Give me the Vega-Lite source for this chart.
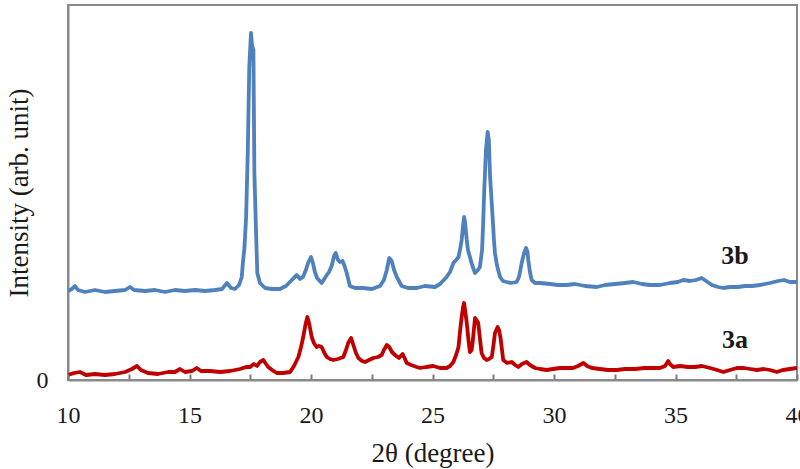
{
  "$schema": "https://vega.github.io/schema/vega-lite/v6.json",
  "width": 729,
  "height": 375,
  "autosize": {"type": "none"},
  "padding": {"left": 68, "top": 5, "right": 3, "bottom": 89},
  "background": "white",
  "config": {
    "view": {"stroke": "#8a8a8a", "strokeWidth": 2},
    "font": "Liberation Serif",
    "axis": {"labelFont": "Liberation Serif", "titleFont": "Liberation Serif", "labelColor": "#1a1a1a", "titleColor": "#1a1a1a", "titleFontWeight": "normal", "grid": false, "domainColor": "#8a8a8a", "domainWidth": 2, "tickColor": "#7a7a7a"}
  },
  "datasets": {
    "xrd": [
      {"s":"3b","x":10.00,"y":89},{"s":"3b","x":10.16,"y":91},{"s":"3b","x":10.29,"y":94},{"s":"3b","x":10.41,"y":90},{"s":"3b","x":10.70,"y":88},{"s":"3b","x":11.11,"y":90},{"s":"3b","x":11.52,"y":88},{"s":"3b","x":11.93,"y":89},{"s":"3b","x":12.35,"y":90},{"s":"3b","x":12.55,"y":93},{"s":"3b","x":12.72,"y":90},{"s":"3b","x":13.17,"y":89},{"s":"3b","x":13.58,"y":90},{"s":"3b","x":13.99,"y":88},{"s":"3b","x":14.40,"y":90},{"s":"3b","x":14.81,"y":89},{"s":"3b","x":15.23,"y":90},{"s":"3b","x":15.64,"y":89},{"s":"3b","x":16.05,"y":90},{"s":"3b","x":16.34,"y":91},{"s":"3b","x":16.54,"y":97},{"s":"3b","x":16.71,"y":92},{"s":"3b","x":16.87,"y":91},{"s":"3b","x":17.04,"y":95},{"s":"3b","x":17.15,"y":103},{"s":"3b","x":17.20,"y":118},{"s":"3b","x":17.26,"y":132},{"s":"3b","x":17.33,"y":163},{"s":"3b","x":17.40,"y":230},{"s":"3b","x":17.46,"y":313},{"s":"3b","x":17.53,"y":347},{"s":"3b","x":17.57,"y":335},{"s":"3b","x":17.63,"y":330},{"s":"3b","x":17.67,"y":207},{"s":"3b","x":17.74,"y":147},{"s":"3b","x":17.79,"y":107},{"s":"3b","x":17.90,"y":97},{"s":"3b","x":18.11,"y":92},{"s":"3b","x":18.40,"y":91},{"s":"3b","x":18.72,"y":91},{"s":"3b","x":18.97,"y":94},{"s":"3b","x":19.21,"y":100},{"s":"3b","x":19.41,"y":105},{"s":"3b","x":19.55,"y":101},{"s":"3b","x":19.67,"y":103},{"s":"3b","x":19.79,"y":110},{"s":"3b","x":19.88,"y":117},{"s":"3b","x":20.00,"y":123},{"s":"3b","x":20.08,"y":117},{"s":"3b","x":20.16,"y":108},{"s":"3b","x":20.25,"y":102},{"s":"3b","x":20.44,"y":97},{"s":"3b","x":20.65,"y":105},{"s":"3b","x":20.74,"y":108},{"s":"3b","x":20.85,"y":114},{"s":"3b","x":20.95,"y":124},{"s":"3b","x":21.02,"y":127},{"s":"3b","x":21.11,"y":120},{"s":"3b","x":21.19,"y":118},{"s":"3b","x":21.30,"y":119},{"s":"3b","x":21.38,"y":114},{"s":"3b","x":21.47,"y":107},{"s":"3b","x":21.60,"y":94},{"s":"3b","x":21.81,"y":92},{"s":"3b","x":22.14,"y":92},{"s":"3b","x":22.51,"y":91},{"s":"3b","x":22.84,"y":94},{"s":"3b","x":23.00,"y":100},{"s":"3b","x":23.12,"y":110},{"s":"3b","x":23.22,"y":122},{"s":"3b","x":23.32,"y":119},{"s":"3b","x":23.42,"y":110},{"s":"3b","x":23.53,"y":103},{"s":"3b","x":23.73,"y":94},{"s":"3b","x":23.99,"y":92},{"s":"3b","x":24.35,"y":92},{"s":"3b","x":24.69,"y":94},{"s":"3b","x":25.10,"y":93},{"s":"3b","x":25.31,"y":96},{"s":"3b","x":25.58,"y":103},{"s":"3b","x":25.72,"y":108},{"s":"3b","x":25.86,"y":117},{"s":"3b","x":25.97,"y":120},{"s":"3b","x":26.07,"y":123},{"s":"3b","x":26.13,"y":130},{"s":"3b","x":26.20,"y":140},{"s":"3b","x":26.26,"y":155},{"s":"3b","x":26.30,"y":163},{"s":"3b","x":26.34,"y":158},{"s":"3b","x":26.41,"y":140},{"s":"3b","x":26.46,"y":130},{"s":"3b","x":26.54,"y":123},{"s":"3b","x":26.63,"y":115},{"s":"3b","x":26.75,"y":107},{"s":"3b","x":26.87,"y":110},{"s":"3b","x":26.95,"y":113},{"s":"3b","x":27.04,"y":130},{"s":"3b","x":27.09,"y":160},{"s":"3b","x":27.13,"y":190},{"s":"3b","x":27.16,"y":207},{"s":"3b","x":27.20,"y":230},{"s":"3b","x":27.27,"y":248},{"s":"3b","x":27.32,"y":240},{"s":"3b","x":27.37,"y":203},{"s":"3b","x":27.43,"y":180},{"s":"3b","x":27.48,"y":160},{"s":"3b","x":27.53,"y":140},{"s":"3b","x":27.57,"y":127},{"s":"3b","x":27.65,"y":115},{"s":"3b","x":27.78,"y":103},{"s":"3b","x":27.90,"y":99},{"s":"3b","x":28.05,"y":98},{"s":"3b","x":28.23,"y":97},{"s":"3b","x":28.46,"y":98},{"s":"3b","x":28.56,"y":103},{"s":"3b","x":28.67,"y":117},{"s":"3b","x":28.77,"y":127},{"s":"3b","x":28.85,"y":132},{"s":"3b","x":28.91,"y":128},{"s":"3b","x":28.94,"y":120},{"s":"3b","x":29.01,"y":108},{"s":"3b","x":29.08,"y":100},{"s":"3b","x":29.22,"y":97},{"s":"3b","x":29.42,"y":97},{"s":"3b","x":29.84,"y":96},{"s":"3b","x":30.16,"y":95},{"s":"3b","x":30.52,"y":95},{"s":"3b","x":30.86,"y":96},{"s":"3b","x":31.28,"y":94},{"s":"3b","x":31.76,"y":93},{"s":"3b","x":32.10,"y":95},{"s":"3b","x":32.51,"y":96},{"s":"3b","x":32.92,"y":97},{"s":"3b","x":33.26,"y":98},{"s":"3b","x":33.62,"y":96},{"s":"3b","x":33.95,"y":95},{"s":"3b","x":34.36,"y":95},{"s":"3b","x":34.77,"y":97},{"s":"3b","x":35.10,"y":98},{"s":"3b","x":35.32,"y":100},{"s":"3b","x":35.60,"y":99},{"s":"3b","x":35.84,"y":100},{"s":"3b","x":36.08,"y":102},{"s":"3b","x":36.26,"y":99},{"s":"3b","x":36.50,"y":95},{"s":"3b","x":36.75,"y":93},{"s":"3b","x":36.97,"y":92},{"s":"3b","x":37.24,"y":93},{"s":"3b","x":37.57,"y":93},{"s":"3b","x":37.86,"y":94},{"s":"3b","x":38.15,"y":94},{"s":"3b","x":38.48,"y":95},{"s":"3b","x":38.89,"y":97},{"s":"3b","x":39.22,"y":99},{"s":"3b","x":39.47,"y":100},{"s":"3b","x":39.71,"y":98},{"s":"3b","x":40.00,"y":98},
      {"s":"3a","x":10.00,"y":5},{"s":"3a","x":10.25,"y":7},{"s":"3a","x":10.49,"y":8},{"s":"3a","x":10.74,"y":5},{"s":"3a","x":11.11,"y":6},{"s":"3a","x":11.52,"y":5},{"s":"3a","x":11.93,"y":6},{"s":"3a","x":12.35,"y":8},{"s":"3a","x":12.63,"y":11},{"s":"3a","x":12.84,"y":14},{"s":"3a","x":13.00,"y":10},{"s":"3a","x":13.29,"y":7},{"s":"3a","x":13.70,"y":6},{"s":"3a","x":14.12,"y":8},{"s":"3a","x":14.40,"y":8},{"s":"3a","x":14.61,"y":11},{"s":"3a","x":14.81,"y":8},{"s":"3a","x":15.10,"y":9},{"s":"3a","x":15.30,"y":12},{"s":"3a","x":15.47,"y":9},{"s":"3a","x":15.84,"y":9},{"s":"3a","x":16.26,"y":8},{"s":"3a","x":16.67,"y":9},{"s":"3a","x":17.08,"y":11},{"s":"3a","x":17.33,"y":13},{"s":"3a","x":17.49,"y":13},{"s":"3a","x":17.65,"y":16},{"s":"3a","x":17.78,"y":14},{"s":"3a","x":17.90,"y":18},{"s":"3a","x":18.04,"y":20},{"s":"3a","x":18.15,"y":16},{"s":"3a","x":18.24,"y":13},{"s":"3a","x":18.40,"y":10},{"s":"3a","x":18.59,"y":7},{"s":"3a","x":18.85,"y":7},{"s":"3a","x":19.14,"y":8},{"s":"3a","x":19.30,"y":14},{"s":"3a","x":19.48,"y":23},{"s":"3a","x":19.59,"y":33},{"s":"3a","x":19.68,"y":43},{"s":"3a","x":19.77,"y":55},{"s":"3a","x":19.85,"y":63},{"s":"3a","x":19.92,"y":57},{"s":"3a","x":20.03,"y":43},{"s":"3a","x":20.12,"y":37},{"s":"3a","x":20.23,"y":33},{"s":"3a","x":20.33,"y":34},{"s":"3a","x":20.44,"y":33},{"s":"3a","x":20.53,"y":28},{"s":"3a","x":20.65,"y":23},{"s":"3a","x":20.78,"y":21},{"s":"3a","x":20.92,"y":20},{"s":"3a","x":21.11,"y":21},{"s":"3a","x":21.33,"y":23},{"s":"3a","x":21.44,"y":30},{"s":"3a","x":21.53,"y":37},{"s":"3a","x":21.65,"y":42},{"s":"3a","x":21.77,"y":33},{"s":"3a","x":21.85,"y":27},{"s":"3a","x":21.95,"y":22},{"s":"3a","x":22.10,"y":19},{"s":"3a","x":22.22,"y":18},{"s":"3a","x":22.39,"y":20},{"s":"3a","x":22.56,"y":22},{"s":"3a","x":22.76,"y":23},{"s":"3a","x":22.91,"y":25},{"s":"3a","x":23.00,"y":30},{"s":"3a","x":23.12,"y":35},{"s":"3a","x":23.22,"y":33},{"s":"3a","x":23.33,"y":28},{"s":"3a","x":23.46,"y":25},{"s":"3a","x":23.62,"y":22},{"s":"3a","x":23.77,"y":26},{"s":"3a","x":23.85,"y":22},{"s":"3a","x":23.94,"y":17},{"s":"3a","x":24.12,"y":15},{"s":"3a","x":24.35,"y":13},{"s":"3a","x":24.49,"y":12},{"s":"3a","x":24.73,"y":13},{"s":"3a","x":25.03,"y":14},{"s":"3a","x":25.31,"y":12},{"s":"3a","x":25.58,"y":12},{"s":"3a","x":25.72,"y":14},{"s":"3a","x":25.86,"y":18},{"s":"3a","x":25.97,"y":25},{"s":"3a","x":26.07,"y":33},{"s":"3a","x":26.13,"y":48},{"s":"3a","x":26.20,"y":63},{"s":"3a","x":26.26,"y":73},{"s":"3a","x":26.30,"y":77},{"s":"3a","x":26.34,"y":70},{"s":"3a","x":26.41,"y":57},{"s":"3a","x":26.48,"y":40},{"s":"3a","x":26.54,"y":28},{"s":"3a","x":26.61,"y":30},{"s":"3a","x":26.65,"y":37},{"s":"3a","x":26.71,"y":52},{"s":"3a","x":26.75,"y":62},{"s":"3a","x":26.81,"y":60},{"s":"3a","x":26.88,"y":57},{"s":"3a","x":26.95,"y":42},{"s":"3a","x":27.02,"y":27},{"s":"3a","x":27.12,"y":22},{"s":"3a","x":27.23,"y":20},{"s":"3a","x":27.33,"y":21},{"s":"3a","x":27.44,"y":23},{"s":"3a","x":27.51,"y":35},{"s":"3a","x":27.57,"y":47},{"s":"3a","x":27.68,"y":53},{"s":"3a","x":27.74,"y":50},{"s":"3a","x":27.80,"y":42},{"s":"3a","x":27.86,"y":30},{"s":"3a","x":27.91,"y":20},{"s":"3a","x":28.07,"y":17},{"s":"3a","x":28.26,"y":18},{"s":"3a","x":28.40,"y":15},{"s":"3a","x":28.53,"y":13},{"s":"3a","x":28.68,"y":16},{"s":"3a","x":28.87,"y":18},{"s":"3a","x":29.01,"y":15},{"s":"3a","x":29.22,"y":12},{"s":"3a","x":29.42,"y":11},{"s":"3a","x":29.70,"y":10},{"s":"3a","x":29.96,"y":11},{"s":"3a","x":30.25,"y":12},{"s":"3a","x":30.52,"y":12},{"s":"3a","x":30.78,"y":12},{"s":"3a","x":30.99,"y":14},{"s":"3a","x":31.21,"y":17},{"s":"3a","x":31.36,"y":14},{"s":"3a","x":31.56,"y":12},{"s":"3a","x":31.89,"y":11},{"s":"3a","x":32.22,"y":10},{"s":"3a","x":32.58,"y":10},{"s":"3a","x":32.92,"y":11},{"s":"3a","x":33.33,"y":11},{"s":"3a","x":33.74,"y":12},{"s":"3a","x":34.03,"y":12},{"s":"3a","x":34.36,"y":12},{"s":"3a","x":34.57,"y":14},{"s":"3a","x":34.70,"y":19},{"s":"3a","x":34.77,"y":16},{"s":"3a","x":34.91,"y":13},{"s":"3a","x":35.19,"y":14},{"s":"3a","x":35.51,"y":13},{"s":"3a","x":35.80,"y":13},{"s":"3a","x":36.09,"y":14},{"s":"3a","x":36.42,"y":12},{"s":"3a","x":36.71,"y":10},{"s":"3a","x":36.97,"y":8},{"s":"3a","x":37.24,"y":10},{"s":"3a","x":37.53,"y":12},{"s":"3a","x":37.82,"y":12},{"s":"3a","x":38.07,"y":11},{"s":"3a","x":38.35,"y":10},{"s":"3a","x":38.64,"y":11},{"s":"3a","x":38.89,"y":10},{"s":"3a","x":39.17,"y":8},{"s":"3a","x":39.42,"y":10},{"s":"3a","x":39.71,"y":11},{"s":"3a","x":40.00,"y":12}
    ],
    "labels": [
      {"x": 37.45, "y": 124, "t": "3b"},
      {"x": 37.45, "y": 40, "t": "3a"}
    ]
  },
  "layer": [
    {
      "data": {"name": "xrd"},
      "mark": {"type": "line", "strokeWidth": 3.8, "strokeJoin": "round", "clip": true},
      "encoding": {
        "x": {"field": "x", "type": "quantitative", "scale": {"domain": [10, 40], "nice": false, "zero": false},
          "axis": {"title": "2θ (degree)", "values": [10, 12.5, 15, 17.5, 20, 22.5, 25, 27.5, 30, 32.5, 35, 37.5, 40], "labelExpr": "datum.value % 5 === 0 ? datum.label : ''", "labelFontSize": 24, "titleFontSize": 27, "tickSize": -6, "tickWidth": 2, "labelPadding": 29, "titlePadding": 13, "labelFlush": false, "labelOverlap": false, "zindex": 1}},
        "y": {"field": "y", "type": "quantitative", "scale": {"domain": [0, 375], "nice": false},
          "axis": {"title": "Intensity (arb. unit)", "values": [0], "ticks": false, "labelFontSize": 24, "titleFontSize": 27, "labelPadding": 20, "titlePadding": 3}},
        "color": {"field": "s", "type": "nominal", "scale": {"domain": ["3b", "3a"], "range": ["#4f81bd", "#c00000"]}, "legend": null},
        "detail": {"field": "s"}
      }
    },
    {
      "data": {"name": "labels"},
      "mark": {"type": "text", "font": "Liberation Serif", "fontWeight": "bold", "fontSize": 26, "color": "#1a1a1a", "align": "center", "baseline": "middle"},
      "encoding": {
        "x": {"field": "x", "type": "quantitative"},
        "y": {"field": "y", "type": "quantitative"},
        "text": {"field": "t"}
      }
    }
  ]
}
